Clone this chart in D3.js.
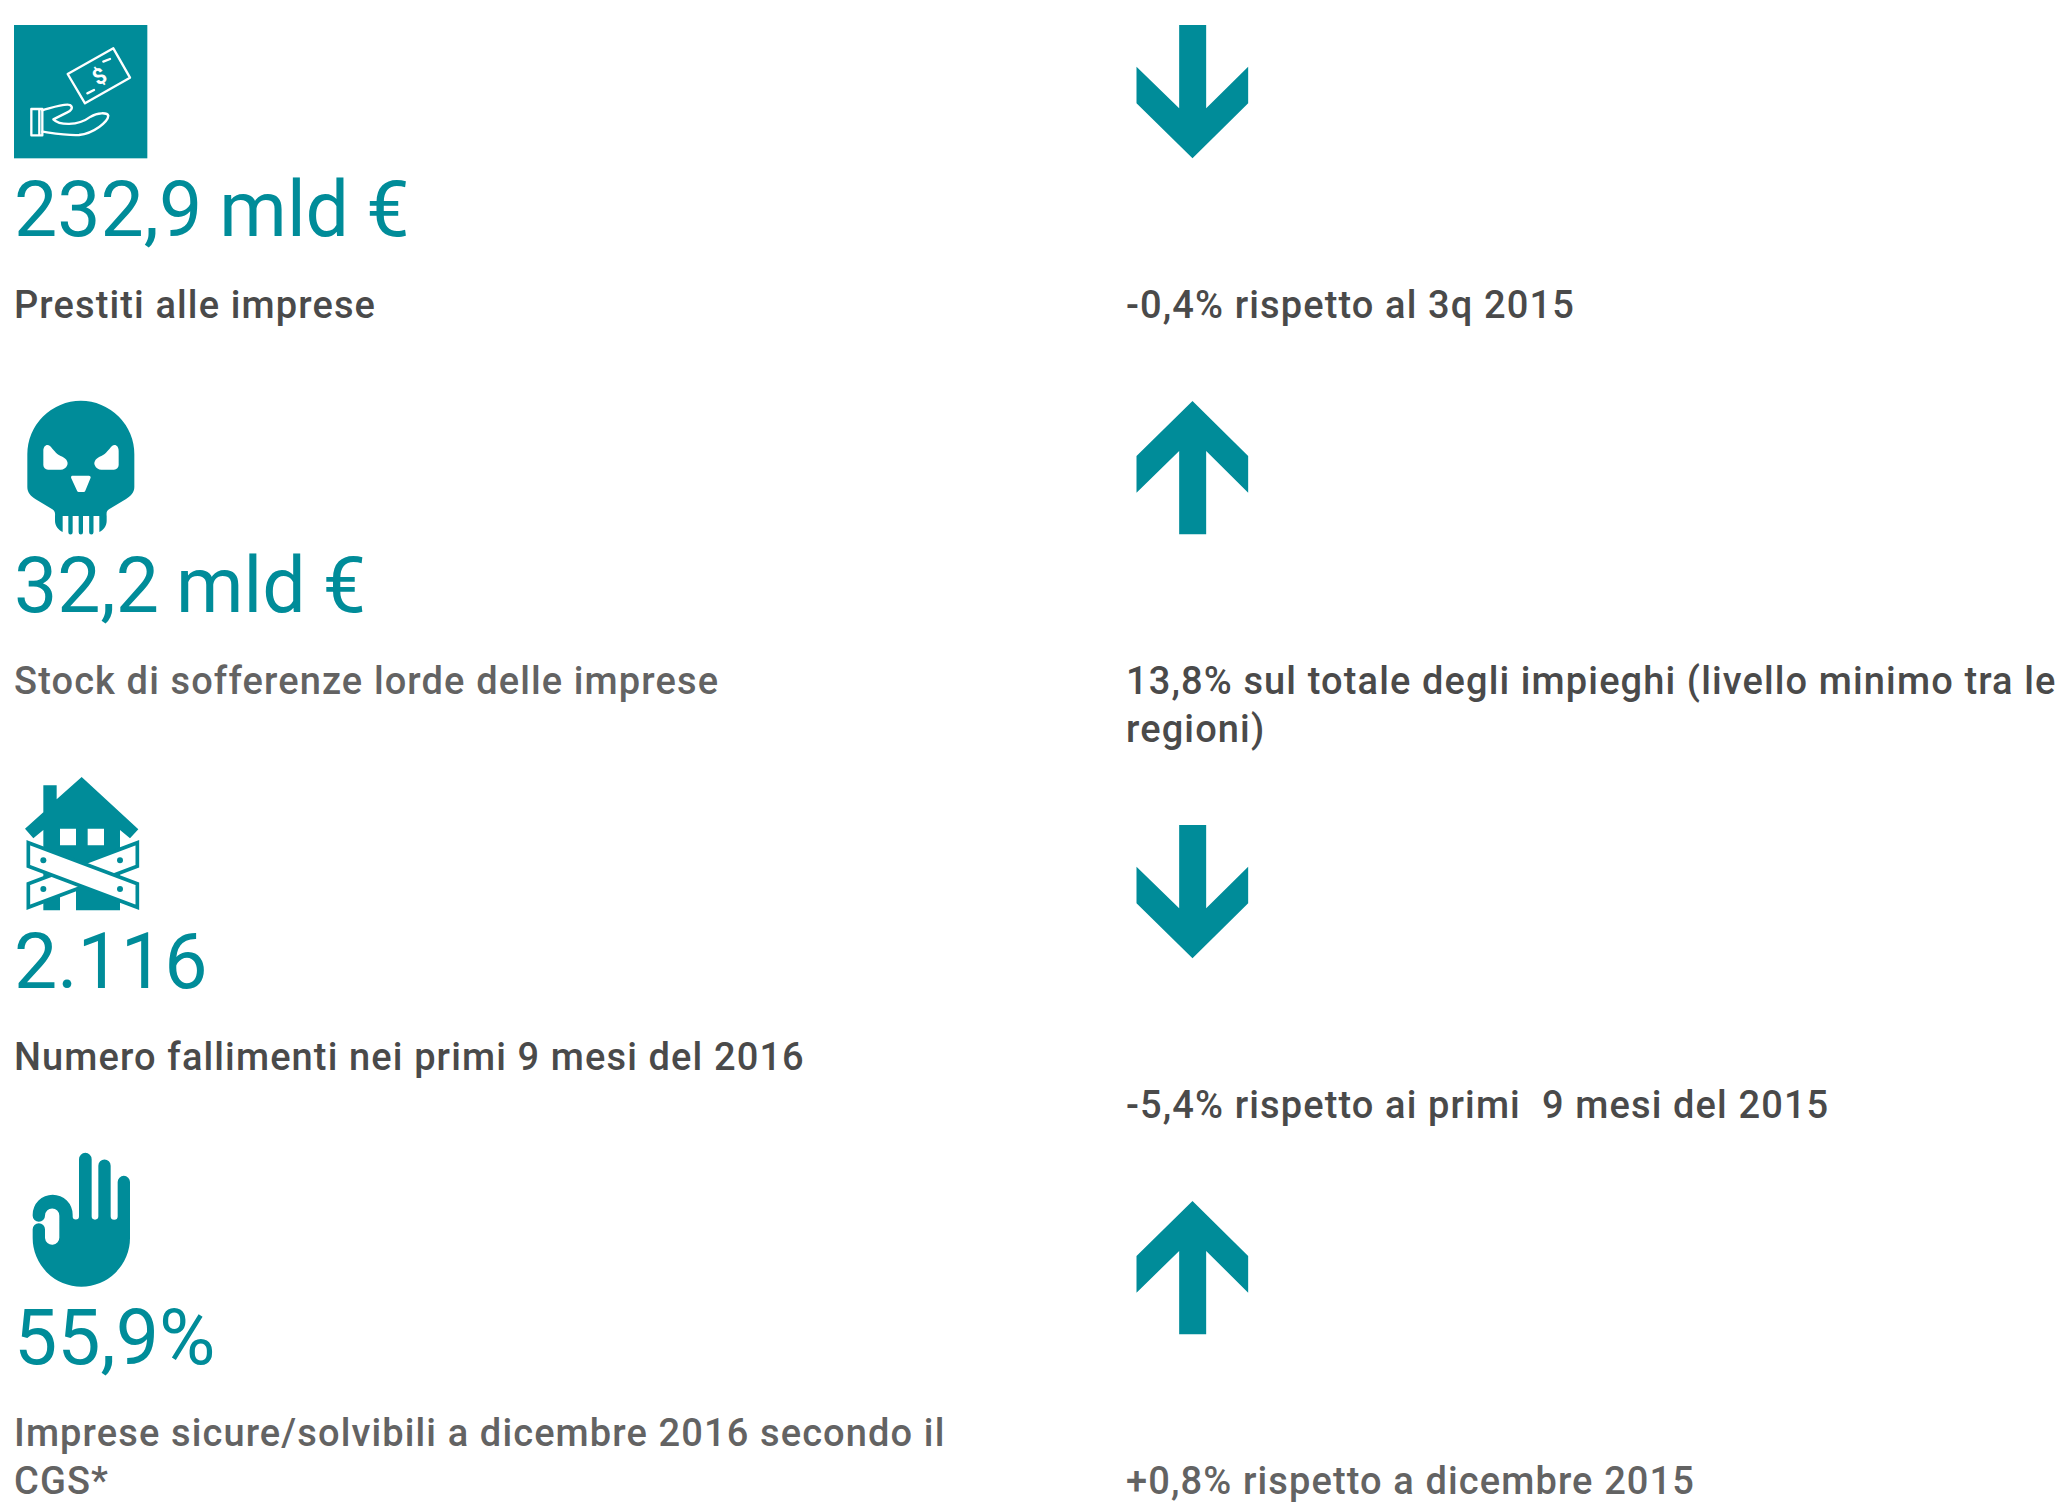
<!DOCTYPE html>
<html>
<head>
<meta charset="utf-8">
<script src="https://cdn.jsdelivr.net/npm/d3@7"></script>
<style>
  body { margin: 0; background: #fff; }
  text { font-family: Roboto, sans-serif; white-space: pre; }
</style>
</head>
<body>
<svg id="chart"></svg>
<script>
const values = ["232,9 mld €", "32,2 mld €", "2.116", "55,9%"];
const labels = [
  ["Prestiti alle imprese"],
  ["Stock di sofferenze lorde delle imprese"],
  ["Numero fallimenti nei primi 9 mesi del 2016"],
  ["Imprese sicure/solvibili a dicembre 2016 secondo il", "CGS*"],
];
const notes = [
  ["-0,4% rispetto al 3q 2015"],
  ["13,8% sul totale degli impieghi (livello minimo tra le", "regioni)"],
  ["-5,4% rispetto ai primi  9 mesi del 2015"],
  ["+0,8% rispetto a dicembre 2015"],
];
const directions = ["down", "up", "down", "up"];
const labelColors = ["#4a4a4a", "#636363", "#4a4a4a", "#636363"];
const noteColors = ["#4a4a4a", "#4a4a4a", "#4a4a4a", "#636363"];

const width = 2060;
const height = 1503;
const teal = "#008c99";
const lineHeight = 48;
const iconScale = 1 / 3; // icons are drawn in a 400 box

const svg = d3.select("#chart").attr("width", width).attr("height", height);

const rowY = d3.scaleLinear().domain([0, 3]).range([25, 1153]);

// the right column flows: a wrapped note pushes the next rows down
let extra = 0;
const noteShift = notes.map((n) => {
  const s = extra;
  extra += (n.length - 1) * lineHeight;
  return s;
});

function drawMoney(g) {
  g.append("rect").attr("width", 400).attr("height", 400).attr("fill", teal);
  const line = g
    .append("g")
    .attr("fill", "none")
    .attr("stroke", "#fff")
    .attr("stroke-width", 7)
    .attr("stroke-linejoin", "round")
    .attr("stroke-linecap", "round");
  line.append("path").attr("d", "M52,252H85V331H52Z M76,252V331");
  line
    .append("path")
    .attr(
      "d",
      "M85,256C115,248 150,235 168,240C180,248 170,258 160,262L118,283C135,300 190,305 230,275C250,262 280,262 283,272C282,290 240,325 195,330C160,332 120,325 85,320"
    );
  line.append("path").attr("d", "M161,147L298,70L348,158L213,235Z");
  line.append("path").attr("d", "M268,110L288,102M220,205L240,195");
  g.append("text")
    .attr("transform", "translate(256,153) rotate(-30)")
    .attr("text-anchor", "middle")
    .attr("dy", "0.36em")
    .attr("font-size", 66)
    .attr("font-weight", 700)
    .attr("fill", "#fff")
    .text("$");
}

function drawSkull(g) {
  g.append("path")
    .attr("fill", teal)
    .attr(
      "d",
      "M40,160A160.5,160.5 0 0 1 361,160V258C361,275 350,285 335,295L285,325C278,330 277,335 278,345V360C278,375 268,388 256,393V345H146V393C134,388 123,375 123,360V345C124,335 122,330 115,325L65,295C50,285 40,275 40,258Z"
    );
  g.append("path")
    .attr("fill", "none")
    .attr("stroke", teal)
    .attr("stroke-width", 13)
    .attr("stroke-linecap", "round")
    .attr("d", "M169.5,340V394M200.5,340V394M232,340V394");
  const eye =
    "M88,150C88,135 98,128 108,135C118,145 125,158 140,165C155,170 164,182 160,192C156,202 148,206 140,206H102C94,206 88,200 88,192Z";
  g.append("path").attr("fill", "#fff").attr("d", eye);
  g.append("path")
    .attr("fill", "#fff")
    .attr("transform", "translate(402,0) scale(-1,1)")
    .attr("d", eye);
  g.append("path")
    .attr("fill", "#fff")
    .attr("stroke", "#fff")
    .attr("stroke-width", 10)
    .attr("stroke-linejoin", "round")
    .attr("d", "M176,229H225L209,268H194Z");
}

function drawHouse(g) {
  g.append("path")
    .attr("fill", teal)
    .attr(
      "d",
      "M203,0L373,157L348,184L318,159V400H186V340H138V400H88V159L58,184L33,155L88,106V25H128V67Z"
    );
  g.append("path")
    .attr("fill", "#fff")
    .attr("d", "M138,155H186V205H138Z M221,155H270V205H221Z");
  const board = g
    .append("g")
    .attr("fill", "#fff")
    .attr("stroke", teal)
    .attr("stroke-width", 11);
  board.append("path").attr("d", "M370,197V268L43,391V320Z");
  board.append("path").attr("d", "M43,197L370,320V391L43,268Z");
  g.selectAll(".nail")
    .data([[88, 250], [318, 250], [88, 336], [318, 336]])
    .join("circle")
    .attr("class", "nail")
    .attr("cx", (d) => d[0])
    .attr("cy", (d) => d[1])
    .attr("r", 9)
    .attr("fill", teal);
}

function drawHand(g) {
  g.append("path")
    .attr("fill", teal)
    .attr(
      "d",
      "M311,87A18.5,18.5 0 0 1 348,87V255A146,146 0 0 1 56,255V229A18.5,18.5 0 0 1 93,229V255A21.5,21.5 0 0 0 136,252V188A21.5,21.5 0 0 0 93,188A18.5,18.5 0 0 1 56,188V185A60,60 0 0 1 176,185V190A9.5,9.5 0 0 0 195,190V18.5A19,19 0 0 1 233,18.5V190A10,10 0 0 0 253,190V38A18.5,18.5 0 0 1 290,38V190A10.5,10.5 0 0 0 311,190Z"
    );
}

const iconDrawers = [drawMoney, drawSkull, drawHouse, drawHand];

// left column: icon, big value, label
const rows = svg
  .selectAll(".row")
  .data(values)
  .join("g")
  .attr("class", "row")
  .attr("transform", (d, i) => `translate(14,${rowY(i)})`);

rows
  .append("g")
  .attr("transform", `scale(${iconScale})`)
  .each(function (d, i) {
    iconDrawers[i](d3.select(this));
  });

rows
  .append("text")
  .attr("x", 0)
  .attr("y", 211)
  .attr("font-size", 77)
  .attr("word-spacing", -2)
  .attr("fill", teal)
  .text((d) => d);

rows.each(function (d, i) {
  d3.select(this)
    .selectAll(".label")
    .data(labels[i])
    .join("text")
    .attr("class", "label")
    .attr("x", 0)
    .attr("y", (l, j) => 293 + j * lineHeight)
    .attr("font-size", 38)
    .attr("font-weight", 500)
    .attr("letter-spacing", 1.12)
    .attr("fill", labelColors[i])
    .text((l) => l);
});

// right column: arrow and note
const arrowDown = "M128,0H209V250L335,125V235L168,400L0,235V125L128,250Z";
const arrowUp = "M128,400H209V150L335,275V165L168,0L0,165V275L128,150Z";

const side = svg
  .selectAll(".side")
  .data(directions)
  .join("g")
  .attr("class", "side")
  .attr("transform", (d, i) => `translate(1126,${rowY(i) + noteShift[i]})`);

side
  .append("path")
  .attr("transform", `translate(10.5,0) scale(${iconScale})`)
  .attr("fill", teal)
  .attr("d", (d) => (d === "down" ? arrowDown : arrowUp));

side.each(function (d, i) {
  d3.select(this)
    .selectAll(".note")
    .data(notes[i])
    .join("text")
    .attr("class", "note")
    .attr("x", 0)
    .attr("y", (l, j) => 293 + j * lineHeight)
    .attr("font-size", 38)
    .attr("font-weight", 500)
    .attr("letter-spacing", 1.12)
    .attr("fill", noteColors[i])
    .text((l) => l);
});
</script>
</body>
</html>
